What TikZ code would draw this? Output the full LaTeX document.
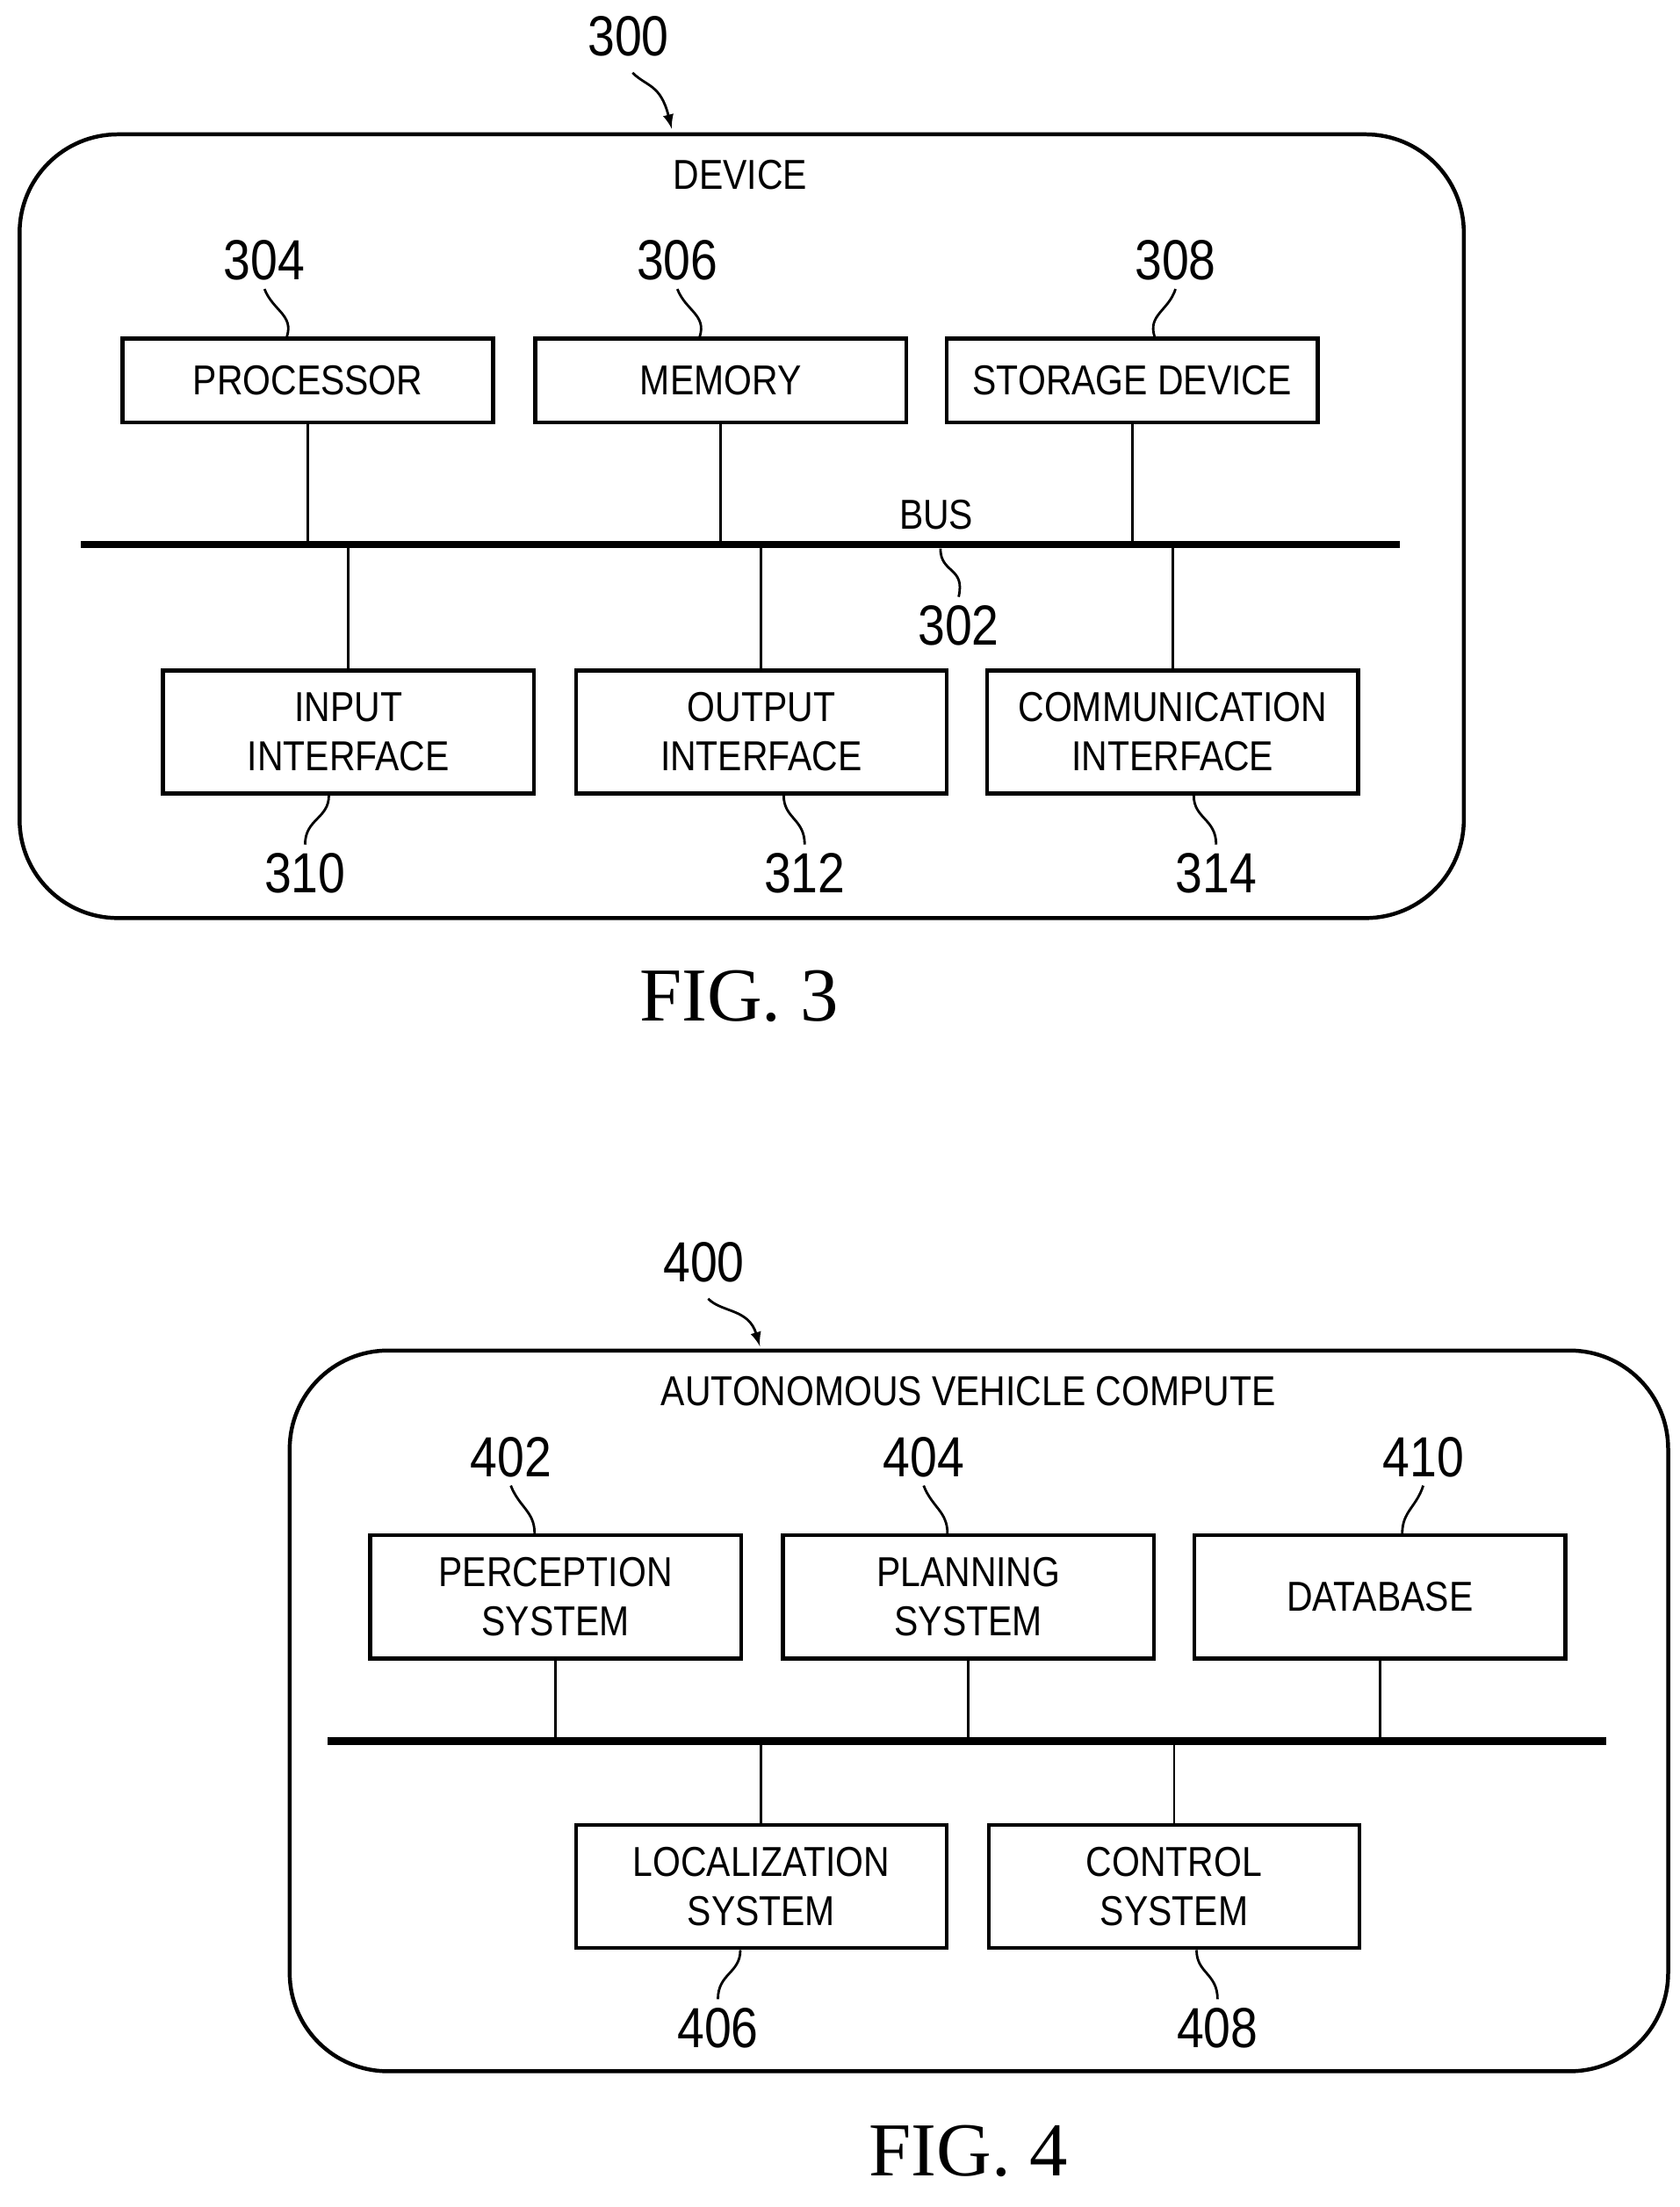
\documentclass[tikz,border=0pt]{standalone}
\usepackage{fontspec}
\setmainfont[FakeStretch=0.86]{Liberation Sans}
\newfontfamily\figfont{Liberation Serif}
\usetikzlibrary{positioning}
\tikzset{
  blk/.style={draw, line width=1.6pt, minimum width=265\pxu, minimum height=60\pxu, align=center, font=\fontsize{17}{20}\selectfont, inner sep=0pt},
  tall/.style={blk, minimum height=88\pxu},
  frame/.style={draw, line width=1.6pt, rounded corners=40pt},
  bus/.style={line width=3pt},
  tap/.style={line width=1pt},
  refnum/.style={font=\fontsize{23}{26}\selectfont},
  lead/.style={line width=1pt},
  figcap/.style={font=\figfont\fontsize{31}{34}\selectfont}
}
\newcommand{\pxu}{*0.02cm}
\begin{document}
\begin{tikzpicture}[x=0.02cm, y=-0.02cm]
\useasboundingbox (0,0) rectangle (1200,1577);
% FIG. 3
\draw[frame] (14,96) rectangle (1046,656);
\node (dev) at (529,125) {\fontsize{17}{20}\selectfont DEVICE};
\node[blk] (proc) at (220,272) {PROCESSOR};
\node[blk] (mem) at (515,272) {MEMORY};
\node[blk] (stor) at (809,272) {STORAGE DEVICE};
\node[tall] (inp) at (249,523) {INPUT\\INTERFACE};
\node[tall] (outp) at (544,523) {OUTPUT\\INTERFACE};
\node[tall] (comm) at (838,523) {COMMUNICATION\\INTERFACE};
\coordinate (busL) at (58,389);
\coordinate (busR) at (1000,389);
\draw[bus] (busL) -- (busR);
\foreach \b in {proc,mem,stor} \draw[tap] (\b.south) -- (\b.south |- busL);
\foreach \b in {inp,outp,comm} \draw[tap] (\b.north) -- (\b.north |- busL);
\node (buslbl) at (669,368) {\fontsize{17}{20}\selectfont BUS};
\node[refnum] (n300) at (449,26) {300};
\node[refnum] (n304) at (189,186) {304};
\node[refnum] (n306) at (484,186) {306};
\node[refnum] (n308) at (840,186) {308};
\node[refnum] (n302) at (685,447) {302};
\node[refnum] (n310) at (218,624) {310};
\node[refnum] (n312) at (575,624) {312};
\node[refnum] (n314) at (869,624) {314};
\draw[lead, ->, >=latex] (452,52) .. controls (462,62) and (472,60) .. (480,92);
\draw[lead] (n304.south) .. controls (195,222) and (210,225) .. (proc.north -| 205,0);
\draw[lead] (n306.south) .. controls (490,222) and (505,225) .. (mem.north -| 500,0);
\draw[lead] (n308.south) .. controls (835,222) and (820,225) .. (stor.north -| 825,0);
\draw[lead] (672,392) .. controls (672,410) and (690,405) .. (n302.north);
\draw[lead] (inp.south -| 235,0) .. controls (235,585) and (218,585) .. (n310.north);
\draw[lead] (outp.south -| 560,0) .. controls (560,585) and (575,585) .. (n312.north);
\draw[lead] (comm.south -| 853,0) .. controls (853,585) and (869,585) .. (n314.north);
\node[figcap] (fig3) at (528,712) {FIG. 3};
% FIG. 4
\draw[frame] (207,965) rectangle (1192,1480);
\node (avc) at (692,994) {\fontsize{17}{20}\selectfont AUTONOMOUS VEHICLE COMPUTE};
\node[tall] (perc) at (397,1141) {PERCEPTION\\SYSTEM};
\node[tall] (plan) at (692,1141) {PLANNING\\SYSTEM};
\node[tall] (db) at (986,1141) {DATABASE};
\node[tall] (loc) at (544,1348) {LOCALIZATION\\SYSTEM};
\node[tall] (ctrl) at (839,1348) {CONTROL\\SYSTEM};
\coordinate (bus4L) at (234,1244);
\coordinate (bus4R) at (1148,1244);
\draw[bus] (bus4L) -- (bus4R);
\foreach \b in {perc,plan,db} \draw[tap] (\b.south) -- (\b.south |- bus4L);
\foreach \b in {loc,ctrl} \draw[tap] (\b.north) -- (\b.north |- bus4L);
\node[refnum] (n400) at (503,902) {400};
\node[refnum] (n402) at (365,1041) {402};
\node[refnum] (n404) at (660,1041) {404};
\node[refnum] (n410) at (1017,1041) {410};
\node[refnum] (n406) at (513,1449) {406};
\node[refnum] (n408) at (870,1449) {408};
\draw[lead, ->, >=latex] (506,928) .. controls (516,938) and (535,935) .. (543,962);
\draw[lead] (n402.south) .. controls (371,1077) and (382,1080) .. (perc.north -| 382,0);
\draw[lead] (n404.south) .. controls (666,1077) and (677,1080) .. (plan.north -| 677,0);
\draw[lead] (n410.south) .. controls (1012,1077) and (1002,1080) .. (db.north -| 1002,0);
\draw[lead] (loc.south -| 529,0) .. controls (529,1410) and (513,1410) .. (n406.north);
\draw[lead] (ctrl.south -| 855,0) .. controls (855,1410) and (870,1410) .. (n408.north);
\node[figcap] (fig4) at (692,1537) {FIG. 4};
\end{tikzpicture}
\end{document}
